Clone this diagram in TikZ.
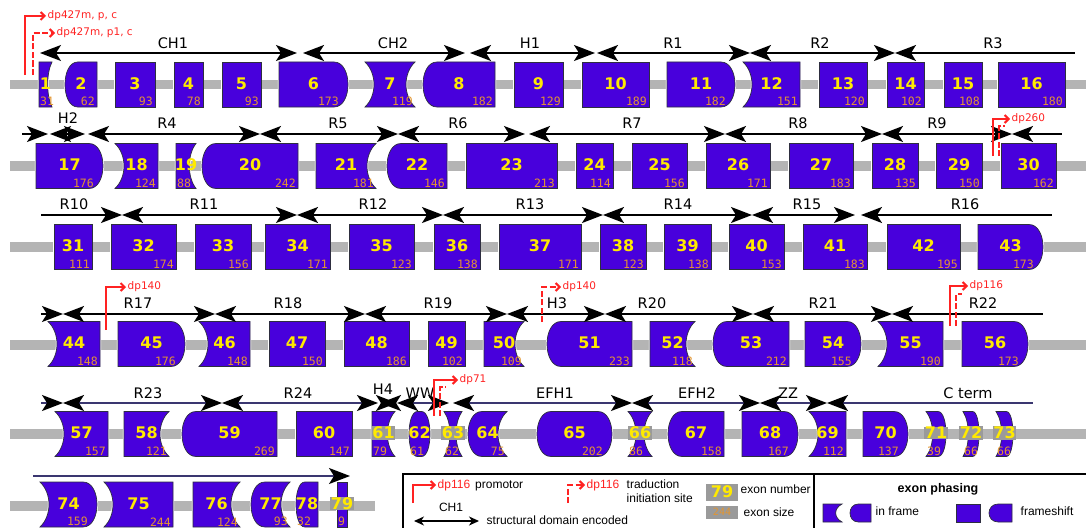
\documentclass[tikz,border=0pt]{standalone}
\usepackage{fontspec}
\setmainfont{DejaVu Sans}
\newfontfamily\sizefam{DejaVu Sans Mono}
\newfontfamily\legfam{Liberation Sans}
\usetikzlibrary{arrows.meta}
\definecolor{exonblue}{HTML}{4800DC}
\definecolor{exonedge}{HTML}{2E2E40}
\definecolor{numyellow}{HTML}{FFEA00}
\definecolor{sizeorange}{HTML}{E39530}
\definecolor{bargray}{HTML}{B4B4B4}
\definecolor{numgray}{HTML}{9A9A9A}
\definecolor{dpred}{HTML}{FF2222}
\definecolor{domblue}{HTML}{3A3670}
\tikzset{>={Stealth[length=21pt,width=16pt,inset=5pt]}}
\tikzset{
  exonbody/.style={fill=exonblue, draw=exonedge, line width=0.7pt},
  exonhalo/.style={draw=white, line width=2.2pt},
  exnum/.style={text=numyellow, font=\fontsize{16}{16}\selectfont\bfseries, inner sep=0.6pt},
  grayback/.style={fill=numgray},
  exsize/.style={text=sizeorange, font=\sizefam\fontsize{11.5}{11.5}\selectfont, inner sep=0pt},
  domline/.style={line width=1.6pt},
  rowfive/.style={draw=domblue, >={Stealth[length=21pt,width=16pt,inset=5pt,black]}},
  domlabel/.style={font=\fontsize{14.5}{14.5}\selectfont, inner sep=0pt},
  promoter/.style={draw=dpred, line width=2pt, -{Straight Barb[length=4pt,width=8pt]}},
  initsite/.style={promoter, dash pattern=on 6pt off 2.5pt},
  dplabel/.style={text=dpred, font=\fontsize{10.5}{10.5}\selectfont, inner sep=1.5pt, anchor=west},
  legtext/.style={font=\legfam\fontsize{12}{13.5}\selectfont, inner sep=1.5pt},
  legframe/.style={draw=black, line width=2pt},
  legarrow/.style={line width=1.4pt, {Stealth[length=10pt,width=9pt,inset=3pt]}-{Stealth[length=10pt,width=9pt,inset=3pt]}},
  numbox/.style={fill=numgray, text=numyellow, font=\fontsize{16}{16}\selectfont\bfseries, minimum width=32pt, minimum height=17pt, inner sep=0pt},
  sizebox/.style={fill=numgray, text=sizeorange, font=\sizefam\fontsize{10}{10}\selectfont, minimum width=32pt, minimum height=13pt, inner sep=0pt},
  num61/.style=grayback, num63/.style=grayback, num66/.style=grayback,
  num71/.style=grayback, num72/.style=grayback, num73/.style=grayback, num79/.style=grayback,
}
\newcommand{\exh}{22.5}
\newcommand{\exd}{14}
\newcommand{\exc}{9}

% exon outline: left x, right x, centre y, half height, left edge, right edge (f flat, v convex, c concave)
\newcommand{\exshape}[6]{%
  \pgfmathsetmacro{\exYa}{#3-#4}\pgfmathsetmacro{\exYb}{#3+#4}%
  \pgfmathsetmacro{\exDv}{min(\exd,(#2-#1)/2.5)}%
  \pgfmathsetmacro{\exDc}{min(\exc,(#2-#1)/3)}%
  \pgfmathsetmacro{\exXl}{#1}\pgfmathsetmacro{\exXr}{#2}%
  \def\exLe{--}\def\exRe{--}%
  \if v#5\pgfmathsetmacro{\exXl}{#1+\exDv}\pgfmathsetmacro{\exCx}{#1-\exDv/3}%
    \edef\exLe{.. controls (\exCx,\exYb) and (\exCx,\exYa) ..}\fi
  \if c#5\pgfmathsetmacro{\exCx}{#1+4*\exDc/3}%
    \edef\exLe{.. controls (\exCx,\exYb-#4/2) and (\exCx,\exYa+#4/2) ..}\fi
  \if v#6\pgfmathsetmacro{\exXr}{#2-\exDv}\pgfmathsetmacro{\exCx}{#2+\exDv/3}%
    \edef\exRe{.. controls (\exCx,\exYa) and (\exCx,\exYb) ..}\fi
  \if c#6\pgfmathsetmacro{\exCx}{#2-4*\exDc/3}%
    \edef\exRe{.. controls (\exCx,\exYa+#4/2) and (\exCx,\exYb-#4/2) ..}\fi
  \edef\expath{(\exXl,\exYa) -- (\exXr,\exYa) \exRe (\exXr,\exYb) -- (\exXl,\exYb) \exLe (\exXl,\exYa) -- cycle}%
  \draw[exonhalo] \expath;
  \draw[exonbody] \expath;
}
% exon: number, left x, right x, centre y, left edge, right edge, size
\newcommand{\exon}[7]{%
  \exshape{#2}{#3}{#4}{\exh}{#5}{#6}
  \node[exnum, num#1/.try] (e#1) at ({(#2+#3)/2}, #4-1) {#1};
  \pgfmathtruncatemacro{\exNarrow}{(#3-#2)<27}%
  \ifnum\exNarrow=1
    \node[exsize, anchor=south west] (s#1) at (#2+1, #4+\exh-0.8) {#7};
  \else
    \if v#6\def\exOff{9}\else\def\exOff{2}\fi
    \node[exsize, anchor=south east] (s#1) at (#3-\exOff, #4+\exh-0.8) {#7};
  \fi
}

\begin{document}
\begin{tikzpicture}[x=1pt, y=-1pt]
\useasboundingbox (0,0) rectangle (1086,527);
% gene backbone
\foreach \y/\xe in {84.5/1086,166/1086,247/1086,345/1086,434/1086,506/375}
  \fill[bargray] (10,\y-4.7) rectangle (\xe,\y+4.7);

% exons
\foreach \n/\xa/\xb/\eL/\eR/\s in {1/39/52/f/c/31, 2/65/97/v/f/62, 3/115/155/f/f/93,
  4/174/203/f/f/78, 5/222/261/f/f/93, 6/279/348/f/v/173, 7/365/415/c/c/119,
  8/423/495/v/f/182, 9/514/563/f/f/129, 10/582/649/f/f/189, 11/667/735/f/v/182,
  12/743/800/c/f/151, 13/819/867/f/f/120, 14/887/924/f/f/102, 15/944/982/f/f/108,
  16/998/1065/f/f/180}
  {\exon{\n}{\xa}{\xb}{84.5}{\eL}{\eR}{\s}}
\foreach \n/\xa/\xb/\eL/\eR/\s in {17/36/103/f/v/176, 18/115/158/c/f/124,
  19/176/196/f/c/88, 20/202/298/v/f/242, 21/316/376/f/c/181, 22/387/447/v/f/146,
  23/466/557/f/f/213, 24/576/613/f/f/114, 25/632/687/f/f/156, 26/706/770/f/f/171,
  27/789/853/f/f/183, 28/872/918/f/f/135, 29/936/982/f/f/150, 30/1001/1056/f/f/162}
  {\exon{\n}{\xa}{\xb}{166}{\eL}{\eR}{\s}}
\foreach \n/\xa/\xb/\eL/\eR/\s in {31/54/92/f/f/111, 32/111/176/f/f/174,
  33/195/251/f/f/156, 34/265/330/f/f/171, 35/349/414/f/f/123, 36/434/480/f/f/138,
  37/499/581/f/f/171, 38/600/646/f/f/123, 39/664/711/f/f/138, 40/729/784/f/f/153,
  41/803/867/f/f/183, 42/887/960/f/f/195, 43/978/1043/f/v/173}
  {\exon{\n}{\xa}{\xb}{247}{\eL}{\eR}{\s}}
\foreach \n/\xa/\xb/\eL/\eR/\s in {44/48/100/c/f/148, 45/118/185/f/v/176,
  46/199/250/c/f/148, 47/269/325/f/f/150, 48/344/409/f/f/186, 49/428/465/f/f/102,
  50/484/524/f/c/109, 51/547/632/v/f/233, 52/650/695/f/c/118, 53/713/789/v/f/212,
  54/805/861/f/v/155, 55/878/943/c/f/190, 56/962/1028/f/v/173}
  {\exon{\n}{\xa}{\xb}{344}{\eL}{\eR}{\s}}
\foreach \n/\xa/\xb/\eL/\eR/\s in {57/55/108/c/f/157, 58/124/169/f/c/121,
  59/182/277/v/f/269, 60/296/352/f/f/147, 61/372/395/f/c/79, 62/409/430/v/v/61,
  63/444/462/c/c/62, 64/468/507/v/c/75, 65/537/612/v/v/202, 66/628/652/c/c/86,
  67/668/724/v/f/158, 68/742/798/f/v/167, 69/809/846/c/f/112, 70/863/908/f/v/137,
  71/926/946/c/v/39, 72/963/979/c/v/66, 73/996/1013/c/v/66}
  {\exon{\n}{\xa}{\xb}{434}{\eL}{\eR}{\s}}
\foreach \n/\xa/\xb/\eL/\eR/\s in {74/40/97/c/v/159, 75/104/173/c/f/244,
  76/193/240/f/c/124, 77/251/290/v/c/93, 78/296/318/v/f/32, 79/337/347/f/f/9}
  {\exon{\n}{\xa}{\xb}{504.5}{\eL}{\eR}{\s}}

% structural domains
\foreach \a/\b/\y/\tip/\lab/\lx/\ly [count=\i] in {40/297/53/<->/CH1/173/43,
  303/465/53/<->/CH2/393/43, 470/595/53/<->/H1/530/43, 597/750/53/<->/R1/673/43,
  750/895/53/<->/R2/820/43, 895/1075/53/<-/R3/993/43,
  50/85/134/<->/H2/68/118, 88/260/134/<->/R4/167/123, 260/398/134/<->/R5/338/123,
  398/525/134/<->/R6/458/123, 529/725/134/<->/R7/632/123, 725/882/134/<->/R8/798/123,
  882/1012/134/<->/R9/937/123,
  41/122/215/->/R10/74/204, 122/297/215/<->/R11/204/204, 297/443/215/<->/R12/373/204,
  443/603/215/<->/R13/530/204, 603/752/215/<->/R14/678/204, 752/855/215/<->/R15/807/204,
  861/1052/215/<-/R16/965/204,
  63/215/314/<->/R17/138/303, 215/365/314/<->/R18/288/303, 365/507/314/<->/R19/438/303,
  507/605/314/<->/H3/557/303, 605/753/314/<->/R20/652/303, 753/892/314/<->/R21/823/303,
  892/1043/314/<-/R22/983/303}
{
  \coordinate (da\i) at (\a,\y);
  \coordinate (db\i) at (\b,\y);
  \draw[domline, \tip] (da\i) -- (db\i);
  \node[domlabel] (dl\i) at (\lx,\ly) {\lab};
}
\foreach \a/\b/\tip/\lab/\lx/\ly [count=\i] in {63/222/<->/R23/148/393,
  222/378/<->/R24/298/393, 380/397/<->/H4/383/389, 397/449/<->/WW/420/393,
  453/632/<->/EFH1/555/393, 632/760/<->/EFH2/697/393, 760/827/<->/ZZ/788/393,
  827/1033/<-/C term/968/393}
{
  \coordinate (fa\i) at (\a,403);
  \coordinate (fb\i) at (\b,403);
  \draw[domline, rowfive, \tip] (fa\i) -- (fb\i);
  \node[domlabel] (fl\i) at (\lx,\ly) {\lab};
}
% domains running over the row ends
\coordinate (ca1) at (22,134);  \coordinate (cb1) at (48,134);
\coordinate (ca2) at (1012,134); \coordinate (cb2) at (1062,134);
\coordinate (ca3) at (41,314);  \coordinate (cb3) at (63,314);
\coordinate (ca4) at (41,403);  \coordinate (cb4) at (63,403);
\coordinate (ca5) at (33,476);  \coordinate (cb5) at (350,476);
\draw[domline, ->] (ca1) -- (cb1);
\draw[domline, <-] (ca2) -- (cb2);
\draw[domline, ->] (ca3) -- (cb3);
\draw[domline, rowfive, ->] (ca4) -- (cb4);
\draw[domline, rowfive, ->] (ca5) -- (cb5);

% promoters and initiation sites
\node[dplabel] (dpa) at (46,16) {dp427m, p, c};
\node[dplabel] (dpb) at (55,33) {dp427m, p1, c};
\node[dplabel] (dpc) at (1010,119) {dp260};
\node[dplabel] (dpd) at (126,287) {dp140};
\node[dplabel] (dpe) at (561,287) {dp140};
\node[dplabel] (dpf) at (968,286) {dp116};
\node[dplabel] (dpg) at (458,380) {dp71};
\coordinate (pa) at (25,75);
\coordinate (pb) at (33,75);
\coordinate (pc) at (993,156);
\coordinate (pcd) at (999,156); \coordinate (pce) at (1005,126);
\coordinate (pd) at (106,330);
\coordinate (pe) at (542,322);
\coordinate (pf) at (950,326);
\coordinate (pfd) at (956,326); \coordinate (pfe) at (962,294);
\coordinate (pg) at (434,416);
\coordinate (pgd) at (440,416); \coordinate (pge) at (446,387);
\draw[promoter] (pa) |- (dpa.west);
\draw[initsite] (pb) |- (dpb.west);
\draw[promoter] (pc) |- (dpc.west);
\draw[initsite, -] (pcd) |- (pce);
\draw[promoter] (pd) |- (dpd.west);
\draw[initsite] (pe) |- (dpe.west);
\draw[promoter] (pf) |- (dpf.west);
\draw[initsite, -] (pfd) |- (pfe);
\draw[promoter] (pg) |- (dpg.west);
\draw[initsite, -] (pgd) |- (pge);

% legend
\draw[legframe] (403,474) rectangle (1095,535);
\draw[legframe] (814,474) -- (814,535);
\coordinate (lgpa) at (413,503);
\node[legtext, anchor=west] (lgp) at (436,485) {\textcolor{dpred}{dp116}\hspace{5pt}promotor};
\draw[promoter] (lgpa) |- (lgp.west);
\coordinate (lgta) at (568,503);
\node[legtext, anchor=west] (lgt) at (585,485) {\textcolor{dpred}{dp116}};
\draw[initsite] (lgta) |- (lgt.west);
\node[legtext, anchor=west, align=left] (lgtx) at (625,491) {traduction\\initiation site};
\node[numbox] (lgnum) at (722,492) {79};
\node[legtext, anchor=west] (lgnumt) at (739,489) {exon number};
\node[sizebox] (lgsize) at (722,512) {244};
\node[legtext, anchor=west] (lgsizet) at (742,512) {exon size};
\coordinate (lgda) at (414,521);
\coordinate (lgdb) at (479,521);
\draw[legarrow] (lgda) -- (lgdb);
\node[legtext] (lgdom) at (451,507) {CH1};
\node[legtext, anchor=west] (lgdomt) at (485,520) {structural domain encoded};
\node[legtext, font=\legfam\bfseries\fontsize{12.5}{13.5}\selectfont] (lgphase) at (938,489) {exon phasing};
\exshape{823}{842}{513}{9}{f}{c}
\exshape{850}{871}{513}{9}{v}{f}
\exshape{956}{980}{513}{9}{f}{f}
\exshape{989}{1012}{513}{9}{v}{f}
\node[legtext, anchor=west] (lgin) at (874,511) {in frame};
\node[legtext, anchor=west] (lgfs) at (1019,511) {frameshift};
\end{tikzpicture}
\end{document}
